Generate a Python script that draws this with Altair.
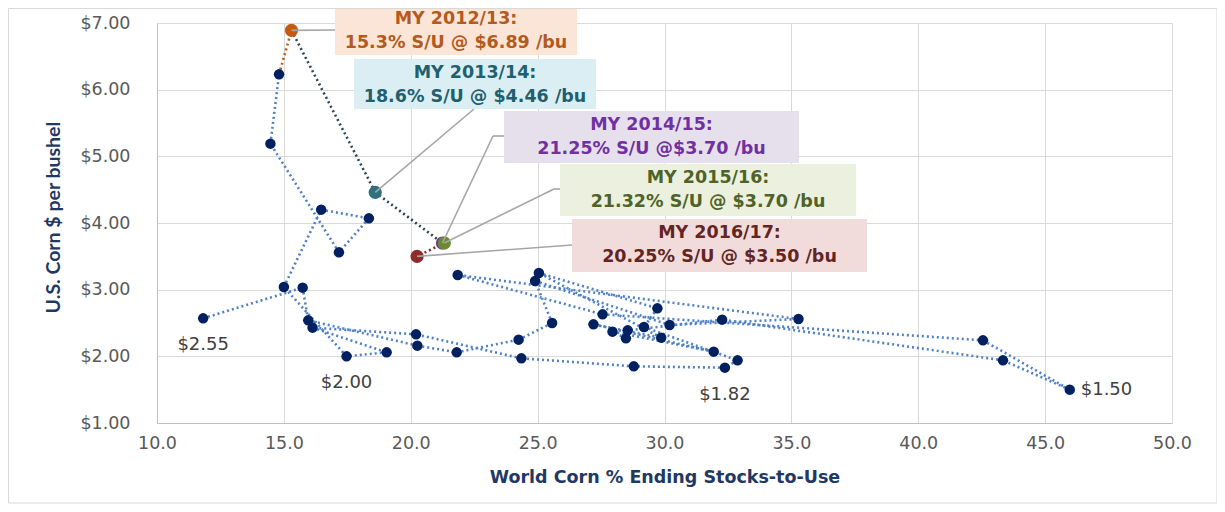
import altair as alt
import pandas as pd

# ---------------- data ----------------
years = ["1973/74", "1974/75", "1975/76", "1976/77", "1977/78", "1978/79", "1979/80",
         "1980/81", "1981/82", "1982/83", "1983/84", "1984/85", "1985/86", "1986/87",
         "1987/88", "1988/89", "1989/90", "1990/91", "1991/92", "1992/93", "1993/94",
         "1994/95", "1995/96", "1996/97", "1997/98", "1998/99", "1999/00", "2000/01",
         "2001/02", "2002/03", "2003/04", "2004/05", "2005/06", "2006/07", "2007/08",
         "2008/09", "2009/10", "2010/11", "2011/12", "2012/13", "2013/14", "2014/15",
         "2015/16", "2016/17"]
stocks_to_use = [11.82, 15.74, 15.96, 20.26, 21.81, 24.25, 25.57,
                 24.90, 30.20, 35.28, 21.85, 27.56, 42.55, 45.97,
                 43.34, 32.27, 28.55, 28.48, 27.95, 31.94, 27.20,
                 29.87, 25.05, 29.72, 29.19, 32.88, 32.38, 28.79,
                 24.36, 20.21, 16.13, 19.05, 17.47, 15.00, 16.47,
                 18.35, 17.17, 14.47, 14.81, 15.30, 18.60, 21.25,
                 21.32, 20.25]
price = [2.57, 3.03, 2.54, 2.16, 2.06, 2.25, 2.50,
         3.13, 2.47, 2.56, 3.22, 2.63, 2.24, 1.50,
         1.94, 2.55, 2.39, 2.27, 2.37, 2.07, 2.48,
         2.28, 3.25, 2.72, 2.44, 1.94, 1.83, 1.85,
         1.97, 2.33, 2.43, 2.06, 2.00, 3.04, 4.20,
         4.07, 3.56, 5.19, 6.23, 6.89, 4.46, 3.70,
         3.70, 3.50]

highlight_years = ["2012/13", "2013/14", "2014/15", "2015/16", "2016/17"]
highlight_lines = [
    ["MY 2012/13:", "15.3% S/U @ $6.89 /bu"],
    ["MY 2013/14:", "18.6% S/U @ $4.46 /bu"],
    ["MY 2014/15:", "21.25% S/U @$3.70 /bu"],
    ["MY 2015/16:", "21.32% S/U @ $3.70 /bu"],
    ["MY 2016/17:", "20.25% S/U @ $3.50 /bu"],
]
below_label_years = ["1973/74", "2005/06", "1999/00"]
below_label_text = ["$2.55", "$2.00", "$1.82"]
right_label_years = ["1986/87"]
right_label_text = ["$1.50"]

x_ticks = [10, 15, 20, 25, 30, 35, 40, 45, 50]
y_ticks = [1, 2, 3, 4, 5, 6, 7]

# ---------------- styles ----------------
NAVY = "#002060"
DOT_BLUE = "#4f81c7"
hl_point_colors = ["#c55a11", "#31707e", "#7030a0", "#6b8a2e", "#8e2b2b"]
hl_text_colors = ["#b35a1f", "#215f6e", "#7030a0", "#4f6228", "#632523"]
hl_fill_colors = ["#fbe5d6", "#dbeef4", "#e6e0ec", "#ebf1de", "#f2dcdb"]
TICK_FONT = "DejaVu Sans"

# ---------------- tables ----------------
pts = pd.DataFrame({"year": years, "su": stocks_to_use, "price": price})

def seg_group(y_from):
    if y_from == "2011/12":
        return "orange"
    if y_from in ("2012/13", "2013/14", "2014/15"):
        return "dark"
    if y_from == "2015/16":
        return "red"
    return "hist"

seg = pd.DataFrame({
    "su": stocks_to_use[:-1], "price": price[:-1],
    "su2": stocks_to_use[1:], "price2": price[1:],
    "grp": [seg_group(y) for y in years[:-1]],
})

hl = pts[pts.year.isin(highlight_years)].copy()
hl["color"] = hl.year.map(dict(zip(highlight_years, hl_point_colors)))

below = pts.set_index("year").loc[below_label_years].reset_index()
below["label"] = below_label_text
right = pts.set_index("year").loc[right_label_years].reset_index()
right["label"] = right_label_text

xs = alt.Scale(domain=[10, 50], nice=False, zero=False)
ys = alt.Scale(domain=[1, 7], nice=False, zero=False)

x_axis = alt.Axis(values=x_ticks, format=".1f", grid=True, gridColor="#d9d9d9",
                  domainColor="#bfbfbf", ticks=False, labelColor="#595959",
                  labelFont=TICK_FONT, labelFontSize=17.5, labelPadding=11,
                  labelFlush=False,
                  title="World Corn % Ending Stocks-to-Use", titleFont="DejaVu Sans",
                  titleFontSize=17.5, titleFontWeight="bold", titleColor="#1f3864",
                  titleY=54, titleBaseline="middle")
y_axis = alt.Axis(values=y_ticks, format="$.2f", grid=True, gridColor="#d9d9d9",
                  domainColor="#bfbfbf", ticks=False, labelColor="#595959",
                  labelFont=TICK_FONT, labelFontSize=17.5, labelPadding=27,
                  title="U.S. Corn $ per bushel", titleFont="Lato",
                  titleFontSize=19.5, titleFontWeight="bold", titleColor="#1f3864",
                  titleX=-104, titleY=194, titleBaseline="middle", titleAngle=270)

segments = alt.Chart(seg).mark_rule(strokeDash=[2, 3], strokeWidth=2.6).encode(
    x=alt.X("su:Q", scale=xs, axis=x_axis),
    y=alt.Y("price:Q", scale=ys, axis=y_axis),
    x2="su2:Q", y2="price2:Q",
    color=alt.Color("grp:N", legend=None,
                    scale=alt.Scale(domain=["hist", "orange", "dark", "red"],
                                    range=[DOT_BLUE, "#c55a11", "#2a4656", "#7b2c2c"])),
)

points = alt.Chart(pts).mark_circle(size=110, opacity=1, color=NAVY).encode(
    x=alt.X("su:Q", scale=xs), y=alt.Y("price:Q", scale=ys))

hl_points = alt.Chart(hl).mark_circle(size=175, opacity=1).encode(
    x=alt.X("su:Q", scale=xs), y=alt.Y("price:Q", scale=ys),
    color=alt.Color("color:N", scale=None))

# annotation layout in pixels relative to the plot area (x0, x1, y0, y1)
boxes = [(178, 420, -18, 32), (197, 439, 36, 86), (347, 642, 88, 140),
         (403, 699, 141, 193), (415, 710, 196, 249)]
# connector paths: from point to these pixel positions
connectors = [[(178, 7)], [(317, 86)], [(336, 113), (347, 113)],
              [(397, 166), (403, 166)], [(415, 222)]]

one = pd.DataFrame({"a": [0]})
layers = [segments, points, hl_points]

for i, yr in enumerate(highlight_years):
    row = hl[hl.year == yr]
    path = connectors[i]
    layers.append(alt.Chart(row).mark_rule(color="#a6a6a6", strokeWidth=1.6).encode(
        x=alt.X("su:Q", scale=xs), y=alt.Y("price:Q", scale=ys),
        x2=alt.value(path[0][0]), y2=alt.value(path[0][1])))
    for (ax, ay), (bx, by) in zip(path[:-1], path[1:]):
        layers.append(alt.Chart(one).mark_rule(color="#a6a6a6", strokeWidth=1.6).encode(
            x=alt.value(ax), y=alt.value(ay), x2=alt.value(bx), y2=alt.value(by)))

for i in range(len(highlight_years)):
    x0, x1, y0, y1 = boxes[i]
    layers.append(alt.Chart(one).mark_rect(color=hl_fill_colors[i]).encode(
        x=alt.value(x0), x2=alt.value(x1), y=alt.value(y0), y2=alt.value(y1)))
    cx = (x0 + x1) / 2
    for j, line in enumerate(highlight_lines[i]):
        layers.append(alt.Chart(one).mark_text(
            font="DejaVu Sans", fontSize=17.5, fontWeight="bold", color=hl_text_colors[i],
            align="center", baseline="middle").encode(
            x=alt.value(cx), y=alt.value(y0 + 14 + 24 * j), text=alt.value(line)))

layers.append(alt.Chart(below).mark_text(
    font=TICK_FONT, fontSize=18, color="#404040", dy=27, baseline="middle").encode(
    x=alt.X("su:Q", scale=xs), y=alt.Y("price:Q", scale=ys), text="label:N"))
layers.append(alt.Chart(right).mark_text(
    font=TICK_FONT, fontSize=18, color="#404040", dx=11, align="left",
    baseline="middle").encode(
    x=alt.X("su:Q", scale=xs), y=alt.Y("price:Q", scale=ys), text="label:N"))

# outer frame of the figure
layers.append(alt.Chart(one).mark_rect(fill=None, stroke="#d9d9d9", strokeWidth=1).encode(
    x=alt.value(-148.5), x2=alt.value(1060), y=alt.value(-14.5), y2=alt.value(480)))

chart = alt.layer(*layers).properties(
    width=1015, height=400,
    padding={"left": 149, "top": 15, "right": 45, "bottom": 81},
    autosize=alt.AutoSizeParams(type="none"),
    background="white",
).configure_view(stroke=None)

chart.save("out.html", embed_options={"renderer": "svg", "actions": False})
